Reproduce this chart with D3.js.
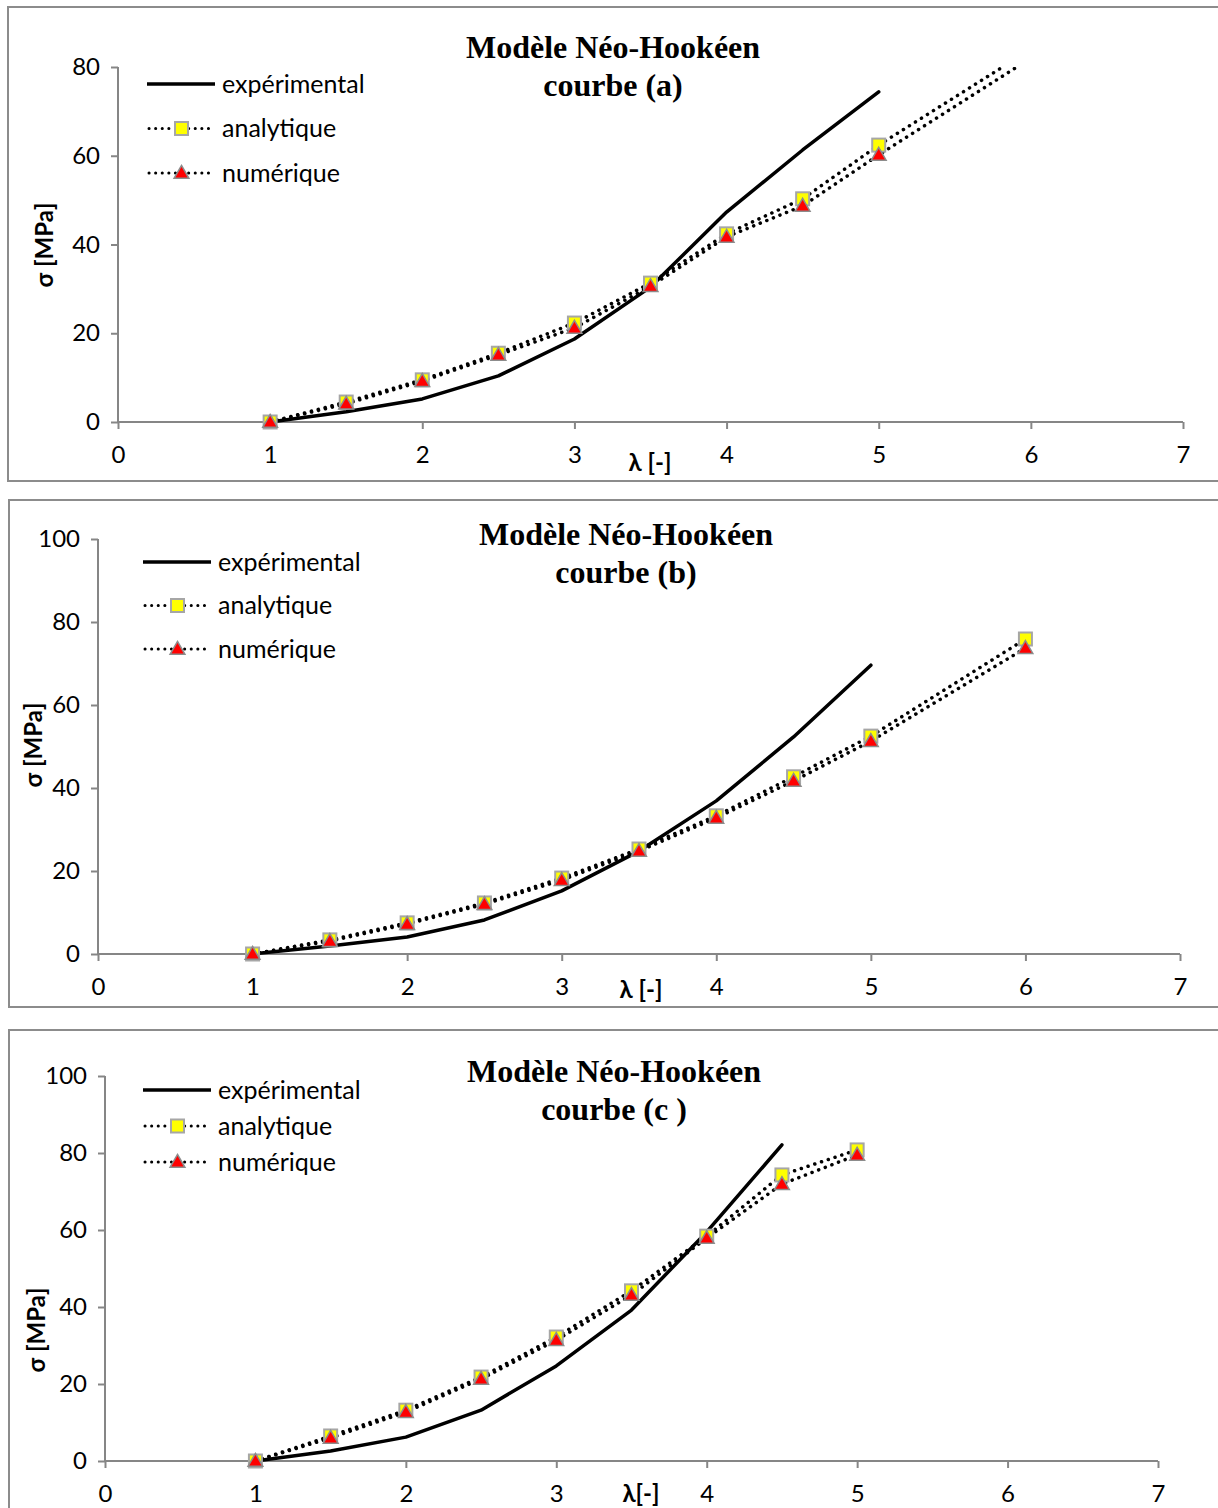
<!DOCTYPE html>
<html>
<head>
<meta charset="utf-8">
<script src="https://cdn.jsdelivr.net/npm/d3@7"></script>
<style>
  body { margin: 0; background: #fff; }
  .tick text { font-family: Lato, "Open Sans", sans-serif; font-size: 24px; fill: #000; }
  .ax path, .ax line { stroke: #868686; stroke-width: 2; }
  .legend { font-family: Lato, "Open Sans", sans-serif; font-size: 25px; }
  .title { font-family: "Liberation Serif", "Times New Roman", serif; font-weight: bold; font-size: 32px; }
  .axtitle { font-family: Lato, "Open Sans", sans-serif; font-weight: bold; font-size: 24px; }
</style>
</head>
<body>
<svg id="chart" width="1218" height="1508"></svg>
<script>
// DATA
var xTicks = [0, 1, 2, 3, 4, 5, 6, 7];
var seriesNames = ["expérimental", "analytique", "numérique"];

// courbe (a)
var lambdaExpA = [1, 1.5, 2, 2.5, 3, 3.5, 4, 4.5, 5];
var expA = [0, 2.3, 5.2, 10.4, 18.7, 30.4, 47.3, 61.3, 74.4];
var lambdaModA = [1, 1.5, 2, 2.5, 3, 3.5, 4, 4.5, 5, 6];
var anaA = [0, 4.5, 9.5, 15.5, 22.3, 31.3, 42.4, 50.3, 62.4, 84];
var numA = [0, 4.1, 9.2, 15.1, 21.2, 30.6, 41.7, 48.7, 60.2, 82];
var yTicksA = [0, 20, 40, 60, 80];

// courbe (b)
var lambdaExpB = [1, 1.5, 2, 2.5, 3, 3.5, 4, 4.5, 5];
var expB = [0, 1.9, 4.1, 8.2, 15.2, 24.8, 36.9, 52.3, 69.6];
var lambdaModB = [1, 1.5, 2, 2.5, 3, 3.5, 4, 4.5, 5, 6];
var anaB = [0, 3.4, 7.5, 12.3, 18.3, 25.3, 33.3, 42.7, 52.5, 75.9];
var numB = [0, 3.1, 7.2, 12.0, 17.8, 24.8, 32.8, 41.7, 51.3, 73.7];
var yTicksB = [0, 20, 40, 60, 80, 100];

// courbe (c)
var lambdaExpC = [1, 1.5, 2, 2.5, 3, 3.5, 4, 4.5];
var expC = [0, 2.6, 6.2, 13.2, 24.7, 39.2, 59.5, 82.1];
var lambdaModC = [1, 1.5, 2, 2.5, 3, 3.5, 4, 4.5, 5];
var anaC = [0, 6.5, 13.2, 21.8, 32.2, 44.2, 58.4, 74.3, 80.8];
var numC = [0, 6.0, 12.7, 21.3, 31.4, 43.1, 57.9, 71.9, 79.5];
var yTicksC = [0, 20, 40, 60, 80, 100];

var svg = d3.select("#chart");
var grey = "#8c8c8c";

function zip(xs, ys) {
  return xs.map(function(x, i) { return {x: x, y: ys[i]}; });
}

function drawPanel(p) {
  // FRAME
  svg.append("rect")
    .attr("x", p.frame[0]).attr("y", p.frame[1])
    .attr("width", p.frame[2]).attr("height", p.frame[3])
    .style("fill", "none").style("stroke", grey).style("stroke-width", 2);

  var x = d3.scaleLinear().domain([0, 7]).range([p.x0, p.x1]);
  var y = d3.scaleLinear().domain([0, p.yMax]).range([p.y0, p.y1]);

  var g = svg.append("g");
  var clipId = "clip" + p.id;
  g.append("clipPath").attr("id", clipId)
    .append("rect")
    .attr("x", p.x0 - 10).attr("y", p.y1)
    .attr("width", p.x1 - p.x0 + 20).attr("height", p.y0 - p.y1 + 10);

  g.append("g").attr("class", "ax")
    .attr("transform", "translate(0," + p.y0 + ")")
    .call(d3.axisBottom(x).tickValues(xTicks).tickFormat(d3.format("d"))
      .tickSize(7).tickSizeOuter(0).tickPadding(p.xPad));
  g.append("g").attr("class", "ax")
    .attr("transform", "translate(" + p.x0 + ",0)")
    .call(d3.axisLeft(y).tickValues(p.yTicks).tickFormat(d3.format("d"))
      .tickSize(7).tickSizeOuter(0).tickPadding(11));
  g.selectAll(".ax .domain").attr("d", null);
  g.append("line").attr("x1", p.x0).attr("x2", p.x1).attr("y1", p.y0).attr("y2", p.y0)
    .style("stroke", "#868686").style("stroke-width", 2);
  g.append("line").attr("x1", p.x0).attr("x2", p.x0).attr("y1", p.y0).attr("y2", p.y1)
    .style("stroke", "#868686").style("stroke-width", 2);

  var line = d3.line().x(function(d) { return x(d.x); }).y(function(d) { return y(d.y); });
  var plot = g.append("g").attr("clip-path", "url(#" + clipId + ")");

  var ana = zip(p.lamMod, p.ana), num = zip(p.lamMod, p.num), exp = zip(p.lamExp, p.exp);

  [ana, num].forEach(function(data) {
    plot.append("path").datum(data).attr("d", line)
      .style("fill", "none").style("stroke", "#000").style("stroke-width", 3.5)
      .style("stroke-linecap", "round").style("stroke-dasharray", "0.1,7");
  });
  plot.append("path").datum(exp).attr("d", line)
    .style("fill", "none").style("stroke", "#000").style("stroke-width", 3.5)
    .style("stroke-linejoin", "round").style("stroke-linecap", "round");

  plot.selectAll(".sq").data(ana).enter().append("rect")
    .attr("x", function(d) { return x(d.x) - 6.5; })
    .attr("y", function(d) { return y(d.y) - 6.5; })
    .attr("width", 13).attr("height", 13)
    .style("fill", "#ffff00").style("stroke", "#a6a6a6").style("stroke-width", 2);
  var tri = d3.symbol().type(d3.symbolTriangle).size(95);
  plot.selectAll(".tri").data(num).enter().append("path")
    .attr("d", tri)
    .attr("transform", function(d) { return "translate(" + x(d.x) + "," + (y(d.y) + 1) + ")"; })
    .style("fill", "#ff0000").style("stroke", "#8c8c8c").style("stroke-width", 1.5);

  // TITLE
  svg.append("text").attr("class", "title").attr("text-anchor", "middle")
    .attr("x", p.titleX).attr("y", p.titleY).text("Modèle Néo-Hookéen");
  svg.append("text").attr("class", "title").attr("text-anchor", "middle")
    .attr("x", p.titleX).attr("y", p.titleY + 38).text(p.sub);

  // AXIS TITLES
  svg.append("text").attr("class", "axtitle").attr("text-anchor", "middle")
    .attr("transform", "translate(" + p.yTitle[0] + "," + p.yTitle[1] + ") rotate(-90)")
    .text("σ [MPa]");
  svg.append("text").attr("class", "axtitle").attr("text-anchor", "middle")
    .attr("x", p.xTitle[0]).attr("y", p.xTitle[1]).text(p.xLabel);

  // LEGEND
  var lx = p.legend[0], ly = p.legend[1], dy = p.legend[2];
  var lg = svg.append("g");
  lg.append("line").attr("x1", lx).attr("x2", lx + 68).attr("y1", ly).attr("y2", ly)
    .style("stroke", "#000").style("stroke-width", 3.5);
  [1, 2].forEach(function(k) {
    lg.append("line").attr("x1", lx + 2).attr("x2", lx + 68).attr("y1", ly + k * dy).attr("y2", ly + k * dy)
      .style("stroke", "#000").style("stroke-width", 3).style("stroke-linecap", "round")
      .style("stroke-dasharray", "0.1,6.5");
  });
  lg.append("rect").attr("x", lx + 28).attr("y", ly + dy - 6.5).attr("width", 13).attr("height", 13)
    .style("fill", "#ffff00").style("stroke", "#a6a6a6").style("stroke-width", 2);
  lg.append("path").attr("d", tri)
    .attr("transform", "translate(" + (lx + 34.5) + "," + (ly + 2 * dy + 1) + ")")
    .style("fill", "#ff0000").style("stroke", "#8c8c8c").style("stroke-width", 1.5);
  seriesNames.forEach(function(s, k) {
    lg.append("text").attr("class", "legend")
      .attr("x", lx + 75).attr("y", ly + k * dy).attr("dy", "0.35em").text(s);
  });
}

drawPanel({id: "a", frame: [8, 7, 1225, 474], x0: 118, x1: 1183, y0: 422, y1: 67, yMax: 80, xPad: 17,
  yTicks: yTicksA, lamExp: lambdaExpA, exp: expA, lamMod: lambdaModA, ana: anaA, num: numA,
  titleX: 613, titleY: 58, sub: "courbe (a)", yTitle: [53, 245], xTitle: [650, 471], xLabel: "λ [-]",
  legend: [147, 84, 44.5]});

drawPanel({id: "b", frame: [9, 500, 1225, 507], x0: 98, x1: 1180, y0: 954, y1: 539, yMax: 100, xPad: 17,
  yTicks: yTicksB, lamExp: lambdaExpB, exp: expB, lamMod: lambdaModB, ana: anaB, num: numB,
  titleX: 626, titleY: 545, sub: "courbe (b)", yTitle: [42, 745], xTitle: [641, 998], xLabel: "λ [-]",
  legend: [143, 562, 43.5]});

drawPanel({id: "c", frame: [9, 1030, 1225, 500], x0: 105, x1: 1158, y0: 1461, y1: 1076, yMax: 100, xPad: 17,
  yTicks: yTicksC, lamExp: lambdaExpC, exp: expC, lamMod: lambdaModC, ana: anaC, num: numC,
  titleX: 614, titleY: 1082, sub: "courbe (c )", yTitle: [45, 1330], xTitle: [641, 1502], xLabel: "λ[-]",
  legend: [143, 1090, 36]});
</script>
</body>
</html>
